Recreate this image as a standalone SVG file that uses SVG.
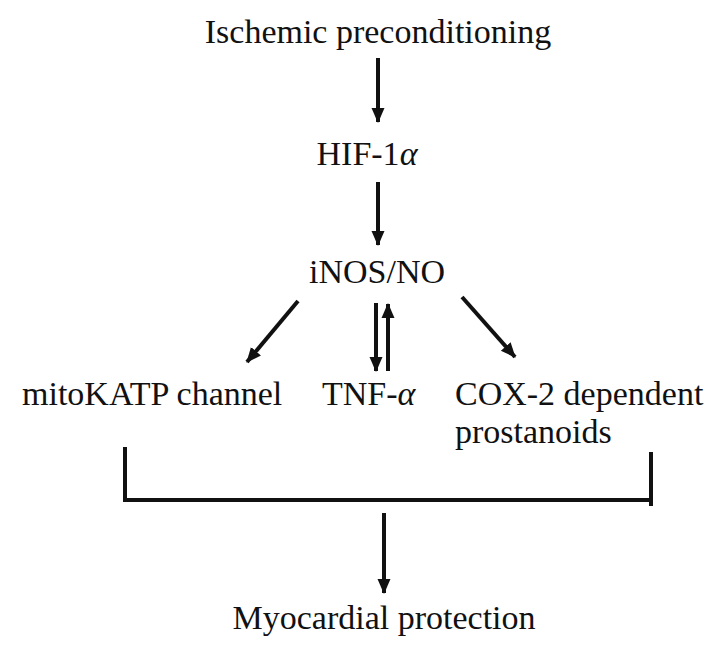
<svg xmlns="http://www.w3.org/2000/svg" width="719" height="659" viewBox="0 0 719 659">
<style>
text{font-family:"Liberation Serif","Times New Roman",serif;font-size:34px;fill:#111}
.c{text-anchor:middle}
.a{stroke:#111;stroke-width:4;fill:none}
.b{stroke:#111;stroke-width:4;fill:none;stroke-linecap:square}
</style>
<defs>
<marker id="ah" markerUnits="userSpaceOnUse" markerWidth="15" markerHeight="15" viewBox="0 0 15 15" refX="14" refY="7.5" orient="auto">
<path d="M0,1 L15,7.5 L0,14 Z" fill="#111"/>
</marker>
</defs>
<rect width="719" height="659" fill="#fff"/>
<g id="ischemic"><text class="c" x="378" y="43">Ischemic preconditioning</text></g>
<g id="hif"><text class="c" x="367" y="165">HIF-1<tspan font-style="italic">α</tspan></text></g>
<g id="inos"><text class="c" x="377" y="283">iNOS/NO</text></g>
<g id="mitokatp"><text x="22" y="405">mitoKATP channel</text></g>
<g id="tnf"><text x="322" y="405">TNF-<tspan font-style="italic">α</tspan></text></g>
<g id="cox2"><text x="455" y="405">COX-2 dependent</text><text x="455" y="443">prostanoids</text></g>
<g id="myocardial"><text class="c" x="384" y="629">Myocardial protection</text></g>
<g id="connectors">
<path class="a" d="M378,58 L378,122" marker-end="url(#ah)"/>
<path class="a" d="M378,182 L378,245" marker-end="url(#ah)"/>
<path class="a" d="M298,301 L247,362" marker-end="url(#ah)"/>
<path class="a" d="M376,303 L376,371" marker-end="url(#ah)"/>
<path class="a" d="M388,371 L388,304" marker-end="url(#ah)"/>
<path class="a" d="M462,297 L515,357" marker-end="url(#ah)"/>
<path class="b" d="M125,449 L125,500 L651,500"/>
<path class="b" d="M651,454 L651,504"/>
<path class="a" d="M384,513 L384,593" marker-end="url(#ah)"/>
</g>
</svg>
